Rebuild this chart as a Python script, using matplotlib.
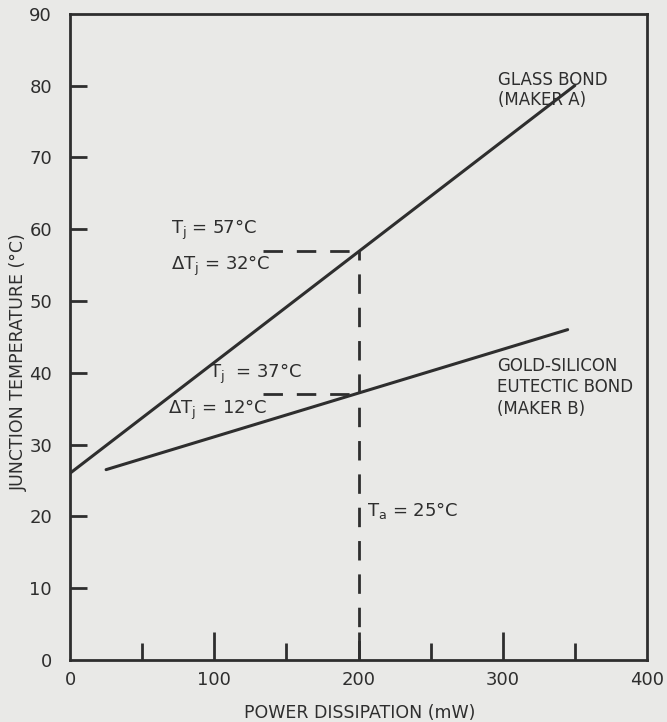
import matplotlib.pyplot as plt

# data
power_glass = [0, 350]
temp_glass = [26, 80]
power_gold = [25, 345]
temp_gold = [26.5, 46]
p_op = 200
tj_glass = 57
tj_gold = 37
dash_start = 134

x_major = [0, 100, 200, 300, 400]
x_minor = [50, 150, 250, 350]
y_ticks = [0, 10, 20, 30, 40, 50, 60, 70, 80, 90]

ink = '#2e2e2e'
paper = '#e9e9e7'

plt.rcParams['font.family'] = 'DejaVu Sans'

fig = plt.figure(figsize=(6.67, 7.22), dpi=100, facecolor=paper)
ax = fig.add_axes([0.105, 0.086, 0.865, 0.895], facecolor=paper)

# curves
ax.plot(power_glass, temp_glass, color=ink, lw=2.2, solid_capstyle='round')
ax.plot(power_gold, temp_gold, color=ink, lw=2.2, solid_capstyle='round')

# dashed guides
dash = dict(color=ink, lw=2, dashes=(7, 5))
ax.plot([dash_start, p_op], [tj_glass, tj_glass], **dash)
ax.plot([dash_start, p_op], [tj_gold, tj_gold], **dash)
ax.plot([p_op, p_op], [0, tj_glass], **dash)

ax.set_xlim(0, 400)
ax.set_ylim(0, 90)

for s in ax.spines.values():
    s.set_color(ink)
    s.set_linewidth(2)

ax.set_xticks(x_major)
ax.set_xticks(x_minor, minor=True)
ax.set_yticks(y_ticks)
ax.tick_params(axis='x', which='major', direction='in', length=20, width=2,
               color=ink, labelsize=13, labelcolor=ink, pad=8)
ax.tick_params(axis='x', which='minor', direction='in', length=12, width=2, color=ink)
ax.tick_params(axis='y', direction='in', length=12, width=2, color=ink,
               labelsize=13, labelcolor=ink, pad=13)

# no tick marks on the corners
for t in (ax.xaxis.get_major_ticks()[0], ax.xaxis.get_major_ticks()[-1],
          ax.yaxis.get_major_ticks()[0], ax.yaxis.get_major_ticks()[-1]):
    t.tick1line.set_visible(False)

ax.set_xlabel('POWER DISSIPATION (mW)', fontsize=12.5, color=ink)
ax.set_ylabel('JUNCTION TEMPERATURE (°C)', fontsize=12.5, color=ink)
ax.xaxis.set_label_coords(0.502, -0.069)
ax.yaxis.set_label_coords(-0.073, 0.461)

txt = dict(fontsize=13, color=ink)
ax.text(70, 59.3, r'T$_\mathregular{j}$ = 57°C', **txt)
ax.text(70, 54.3, r'ΔT$_\mathregular{j}$ = 32°C', **txt)
ax.text(96, 39.3, r'T$_\mathregular{j}$  = 37°C', **txt)
ax.text(68, 34.3, r'ΔT$_\mathregular{j}$ = 12°C', **txt)
ax.text(206, 20.0, r'T$_\mathregular{a}$ = 25°C', **txt)
ax.text(297, 82.0, 'GLASS BOND\n(MAKER A)', fontsize=12, color=ink,
        linespacing=1.1, va='top')
ax.text(296, 42.2, 'GOLD-SILICON\nEUTECTIC BOND\n(MAKER B)', fontsize=12,
        color=ink, linespacing=1.25, va='top')

fig.savefig('out.png', dpi=100, facecolor=paper)
